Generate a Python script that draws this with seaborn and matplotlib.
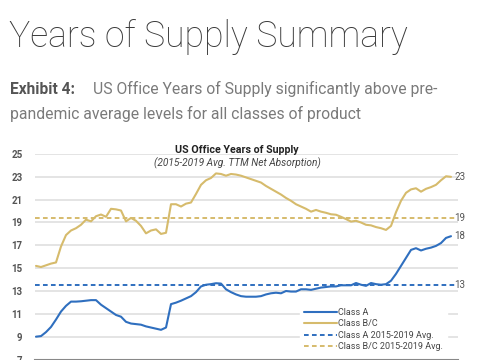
import matplotlib
matplotlib.use("Agg")
import matplotlib.pyplot as plt
import seaborn as sns
import pandas as pd
import numpy as np

# chart data, one point per period
class_a = [9.0, 9.05, 9.4, 9.85, 10.5, 11.2, 11.7, 12.07, 12.07, 12.1,
           12.15, 12.2, 12.2, 11.8, 11.5, 11.2, 10.9, 10.75, 10.3, 10.15,
           10.1, 10.05, 9.9, 9.8, 9.7, 9.6, 9.8, 11.85, 11.98, 12.15,
           12.35, 12.55, 12.9, 13.4, 13.55, 13.6, 13.68, 13.65, 13.15, 12.9,
           12.7, 12.55, 12.5, 12.5, 12.5, 12.55, 12.7, 12.8, 12.85, 12.8,
           13.0, 12.95, 12.95, 13.15, 13.15, 13.1, 13.2, 13.3, 13.35, 13.4,
           13.4, 13.5, 13.5, 13.5, 13.7, 13.55, 13.45, 13.7, 13.6, 13.55,
           13.6, 13.9, 14.5, 15.2, 15.9, 16.6, 16.75, 16.55, 16.7, 16.8,
           16.95, 17.2, 17.65, 17.8]
class_bc = [15.2, 15.1, 15.25, 15.4, 15.5, 16.9, 17.9, 18.3, 18.5, 18.8,
            19.25, 19.1, 19.55, 19.7, 19.5, 20.2, 20.15, 20.05, 19.1, 19.4,
            19.15, 18.7, 18.05, 18.3, 18.4, 18.0, 18.1, 20.6, 20.6, 20.4,
            20.65, 20.75, 21.5, 22.3, 22.7, 22.9, 23.3, 23.25, 23.1, 23.25,
            23.2, 23.1, 22.95, 22.8, 22.65, 22.5, 22.2, 21.95, 21.7, 21.45,
            21.15, 20.9, 20.6, 20.4, 20.2, 19.95, 20.1, 19.95, 19.85, 19.72,
            19.68, 19.5, 19.3, 19.08, 19.15, 19.0, 18.8, 18.75, 18.6, 18.5,
            18.35, 18.7, 19.9, 20.9, 21.6, 21.9, 22.0, 21.7, 21.95, 22.1,
            22.3, 22.7, 23.05, 23.0]
avg_a = 13.5
avg_bc = 19.4
end_labels = ["23", "19", "18", "13"]
y_ticks = [7, 9, 11, 13, 15, 17, 19, 21, 23, 25]

BLUE = "#2f6fbf"
GOLD = "#d6bb6c"
NARROW = ["Liberation Sans Narrow", "Roboto", "DejaVu Sans"]

df = pd.DataFrame({"period": np.arange(len(class_a)),
                   "Class A": class_a, "Class B/C": class_bc})

sns.set_theme(style="white")
plt.rcParams["font.family"] = ["Roboto", "DejaVu Sans"]

fig = plt.figure(figsize=(4.85, 3.6), dpi=100)

# page header
fig.text(9 / 485, 1 - 37 / 360, "Years of Supply Summary", fontsize=25.6,
         fontweight="light", color="#3a3a3a", va="center", ha="left")
fig.text(10 / 485, 1 - 89 / 360, "Exhibit 4:", fontsize=11.2, fontweight="bold",
         color="#555555", va="center", ha="left")
fig.text(93 / 485, 1 - 89 / 360, "US Office Years of Supply significantly above pre-",
         fontsize=11.3, color="#7a7a7a", va="center", ha="left")
fig.text(10 / 485, 1 - 114 / 360, "pandemic average levels for all classes of product",
         fontsize=11.3, color="#7a7a7a", va="center", ha="left")

ax = fig.add_axes([35 / 485, 0.5 / 360, (458 - 35) / 485, (359.5 - 154) / 360])
ax.set_xlim(-0.2, 84.4)
ax.set_ylim(7, 25)
ax.set_yticks(y_ticks)
ax.set_xticks([])
ax.grid(axis="y", color="#e2e2e2", linewidth=1.3)
ax.set_axisbelow(True)
for s in ["top", "right", "left"]:
    ax.spines[s].set_visible(False)
ax.spines["bottom"].set_color("#888888")
ax.spines["bottom"].set_linewidth(1.5)
ax.tick_params(axis="y", length=0, pad=9, labelsize=7, labelcolor="#555555")
for lab in ax.get_yticklabels():
    lab.set_fontweight("bold")
    lab.set_family(NARROW)

sns.lineplot(data=df, x="period", y="Class A", ax=ax, color=BLUE, linewidth=1.5,
             label="Class A")
sns.lineplot(data=df, x="period", y="Class B/C", ax=ax, color=GOLD, linewidth=1.5,
             label="Class B/C")
ax.axhline(avg_a, xmin=0, xmax=(455 - 35) / 423, color=BLUE, linewidth=1.4,
           linestyle=(0, (2.4, 1.7)), label="Class A 2015-2019 Avg.")
ax.axhline(avg_bc, xmin=0, xmax=(455 - 35) / 423, color=GOLD, linewidth=1.4,
           linestyle=(0, (2.4, 1.7)), label="Class B/C 2015-2019 Avg.")
ax.set_xlabel("")
ax.set_ylabel("")

# end-of-series labels
last = len(class_a) - 1
for txt, yv in zip(end_labels, [class_bc[-1], avg_bc, class_a[-1], avg_a]):
    ax.text(last + 0.7, yv, txt, fontsize=7, color="#555555", va="center", ha="left",
            family=NARROW, clip_on=False)

ax.text(0.478, 1.02, "US Office Years of Supply", transform=ax.transAxes,
        fontsize=7.7, fontweight="bold", color="#222222", ha="center", va="center",
        family=NARROW)
ax.text(0.478, 0.955, "(2015-2019 Avg. TTM Net Absorption)", transform=ax.transAxes,
        fontsize=7.3, style="italic", color="#444444", ha="center", va="center",
        family=NARROW)

leg = ax.legend(loc="lower right", bbox_to_anchor=(0.974, 0.02),
                prop={"family": NARROW, "size": 6.5},
                frameon=True, facecolor="white", edgecolor="white", framealpha=1,
                handlelength=3.65, handletextpad=0.15, labelspacing=0.28,
                borderpad=0.45, borderaxespad=0)
for t in leg.get_texts():
    t.set_color("#444444")

fig.savefig("out.png", dpi=100)
